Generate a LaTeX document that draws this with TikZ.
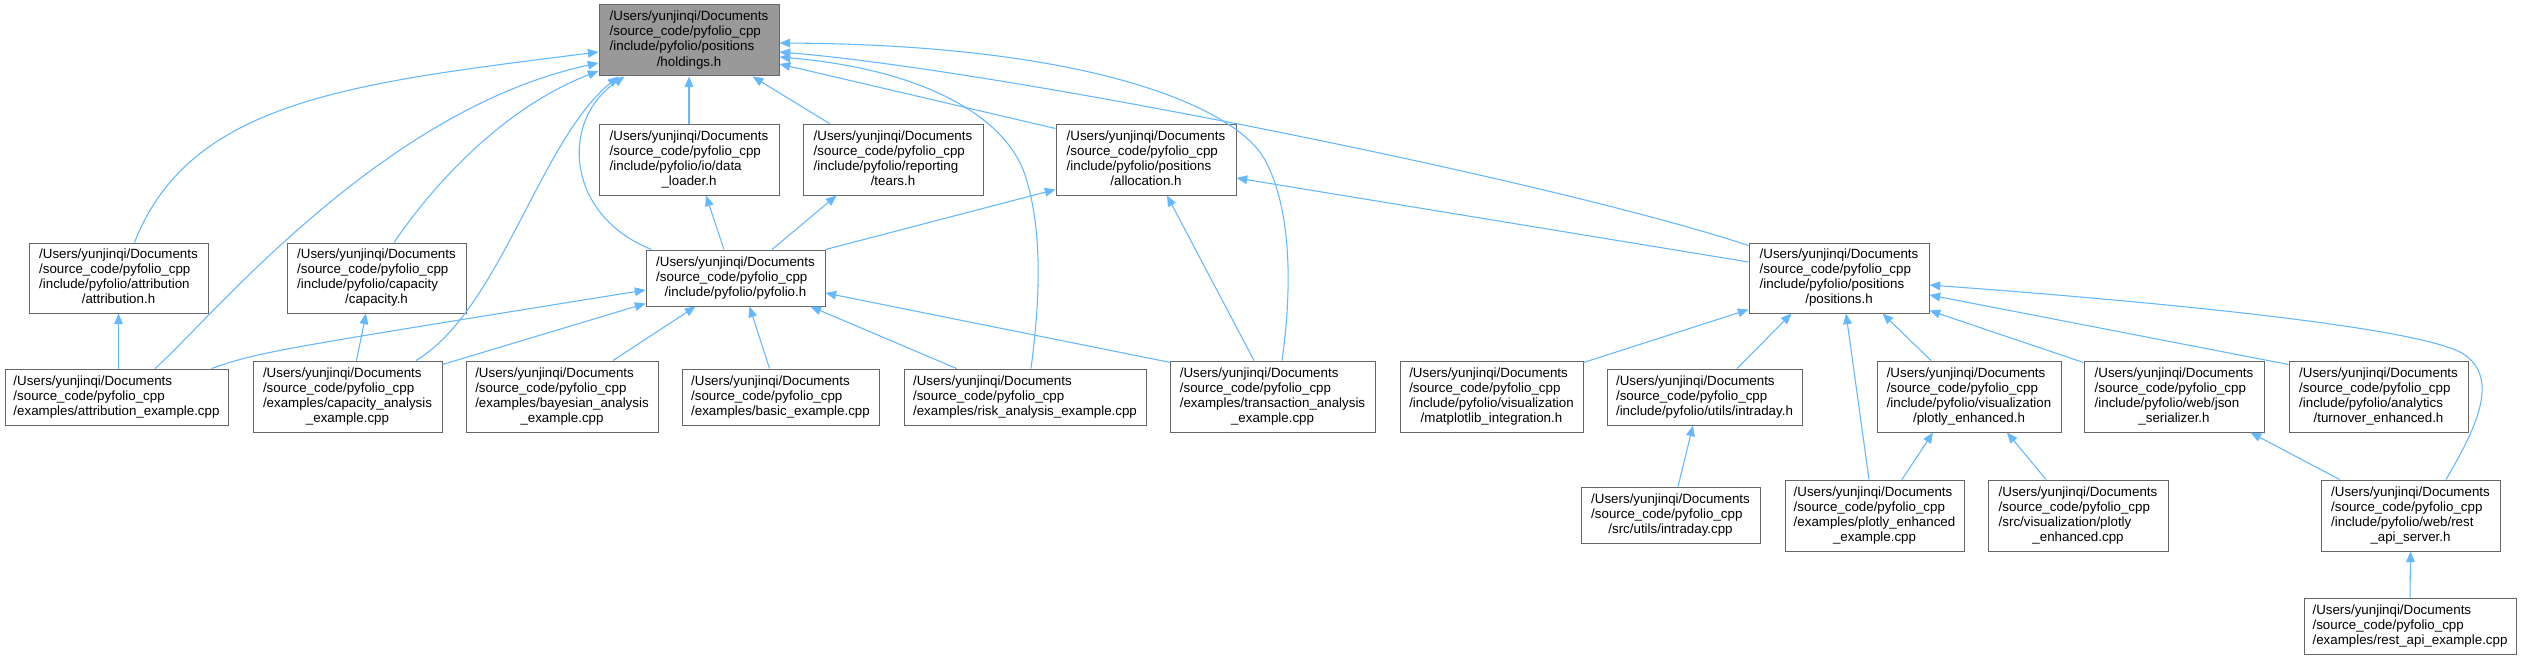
\documentclass[tikz,border=0pt]{standalone}
\usepackage{fontspec}
\setmainfont{Liberation Sans}
\usetikzlibrary{arrows.meta,calc}
\definecolor{edgec}{HTML}{63B8FF}
\definecolor{boxb}{HTML}{666666}
\definecolor{hfill}{HTML}{999999}
\newcommand{\ftxt}[2]{\begin{tabular}{@{}l@{}}#1\\\multicolumn{1}{@{}c@{}}{#2}\end{tabular}}
\newcommand{\ud}{/Users/yunjinqi/Documents\\/source\_code/pyfolio\_cpp}
\tikzset{
  bx/.style 2 args={draw=boxb, line width=0.75pt, fill=white, inner sep=0pt,
    minimum width=#1*0.75pt, minimum height=#2*0.75pt,
    font=\fontsize{10pt}{11.25pt}\selectfont},
  edge/.style={draw=edgec, line width=0.8pt, -{Triangle[length=8pt,width=6.5pt]}}
}
\begin{document}
\begin{tikzpicture}[x=0.75pt,y=-0.75pt]
\fill[white] (0,0) rectangle (2522,660);
\useasboundingbox (0,0) rectangle (2522,660);
% row 0
\node[bx={180}{71}, fill=hfill] (hold) at (689,40.5) {\ftxt{\ud\\/include/pyfolio/positions}{/holdings.h}};
% row 1
\node[bx={180}{71}] (dl) at (689,159.5) {\ftxt{\ud\\/include/pyfolio/io/data}{\_loader.h}};
\node[bx={180}{71}] (tears) at (893,159.5) {\ftxt{\ud\\/include/pyfolio/reporting}{/tears.h}};
\node[bx={180}{71}] (alloc) at (1146,159.5) {\ftxt{\ud\\/include/pyfolio/positions}{/allocation.h}};
% row 2
\node[bx={179}{70}] (attr) at (118.5,278) {\ftxt{\ud\\/include/pyfolio/attribution}{/attribution.h}};
\node[bx={179}{70}] (cap) at (376.5,278) {\ftxt{\ud\\/include/pyfolio/capacity}{/capacity.h}};
\node[bx={179}{56}] (pyf) at (735.5,278) {\ftxt{\ud}{/include/pyfolio/pyfolio.h}};
\node[bx={180}{70}] (pos) at (1839,278) {\ftxt{\ud\\/include/pyfolio/positions}{/positions.h}};
% row 3
\node[bx={223}{56}] (attrex) at (116.5,397) {\ftxt{\ud}{/examples/attribution\_example.cpp}};
\node[bx={189}{71}] (capex) at (347.5,396.5) {\ftxt{\ud\\/examples/capacity\_analysis}{\_example.cpp}};
\node[bx={192}{71}] (bay) at (562,396.5) {\ftxt{\ud\\/examples/bayesian\_analysis}{\_example.cpp}};
\node[bx={197}{56}] (basic) at (780.5,397) {\ftxt{\ud}{/examples/basic\_example.cpp}};
\node[bx={242}{56}] (risk) at (1025,397) {\ftxt{\ud}{/examples/risk\_analysis\_example.cpp}};
\node[bx={205}{71}] (trans) at (1272.5,396.5) {\ftxt{\ud\\/examples/transaction\_analysis}{\_example.cpp}};
\node[bx={183}{71}] (matpl) at (1491.5,396.5) {\ftxt{\ud\\/include/pyfolio/visualization}{/matplotlib\_integration.h}};
\node[bx={195}{56}] (intrh) at (1704.5,397) {\ftxt{\ud}{/include/pyfolio/utils/intraday.h}};
\node[bx={184}{71}] (plh) at (1969,396.5) {\ftxt{\ud\\/include/pyfolio/visualization}{/plotly\_enhanced.h}};
\node[bx={180}{71}] (json) at (2174,396.5) {\ftxt{\ud\\/include/pyfolio/web/json}{\_serializer.h}};
\node[bx={179}{71}] (turn) at (2378.5,396.5) {\ftxt{\ud\\/include/pyfolio/analytics}{/turnover\_enhanced.h}};
% row 4
\node[bx={179}{56}] (intrc) at (1670.5,515) {\ftxt{\ud}{/src/utils/intraday.cpp}};
\node[bx={179}{71}] (plex) at (1874.5,515.5) {\ftxt{\ud\\/examples/plotly\_enhanced}{\_example.cpp}};
\node[bx={180}{71}] (plcpp) at (2078,515.5) {\ftxt{\ud\\/src/visualization/plotly}{\_enhanced.cpp}};
\node[bx={179}{71}] (rest) at (2410.5,515.5) {\ftxt{\ud\\/include/pyfolio/web/rest}{\_api\_server.h}};
% row 5
\node[bx={212}{56}] (restex) at (2410,626) {\ftxt{\ud}{/examples/rest\_api\_example.cpp}};

% edges to holdings
\draw[edge] (dl.north) -- (hold.south);
\draw[edge] ($(tears.north west)+(27,0)$) -- ($(hold.south east)+(-27,0)$);
\draw[edge] ($(alloc.north west)+(0,5)$) -- ($(hold.east)+(0,23.5)$);
\draw[edge] ($(pos.north west)+(0,3)$) .. controls (1550,180) and (1000,70) .. ($(hold.east)+(0,11.5)$);
\draw[edge] ($(risk.north)+(6,0)$) .. controls (1040,300) and (1043,230) .. (1025,175)
   .. controls (1007,120) and (930,70) .. ($(hold.east)+(0,16.5)$);
\draw[edge] ($(trans.north)+(9.5,0)$) .. controls (1292,290) and (1292,210) .. (1265,160)
   .. controls (1238,110) and (1100,45) .. ($(hold.east)+(0,2.5)$);
\draw[edge] ($(attr.north)+(16,0)$) .. controls (190,100) and (353,83) .. ($(hold.west)+(0,11.5)$);
\draw[edge] ($(attrex.north)+(38.5,0)$) .. controls (210,320) and (380,110) .. ($(hold.west)+(0,22.5)$);
\draw[edge] ($(cap.north)+(17.5,0)$) .. controls (440,175) and (510,105) .. ($(hold.west)+(0,30.5)$);
\draw[edge] ($(capex.north)+(68.5,0)$) .. controls (500,310) and (540,140) .. ($(hold.south west)+(20,0)$);
\draw[edge] ($(pyf.north west)+(6,0)$) .. controls (565,215) and (560,120) .. ($(hold.south west)+(26,0)$);
% edges from pyfolio.h
\draw[edge] ($(pyf.north)+(-11.5,0)$) -- ($(dl.south)+(17,0)$);
\draw[edge] ($(pyf.north)+(36.5,0)$) -- ($(tears.south west)+(34,0)$);
\draw[edge] (pyf.north east) -- ($(alloc.south west)+(0,-6)$);
% row 3 left side
\draw[edge] (attrex.north -| attr.south) -- (attr.south);
\draw[edge] ($(attrex.north east)+(-17,0)$) .. controls (260,352) .. ($(pyf.west)+(0,12)$);
\draw[edge] ($(capex.north)+(9,0)$) -- ($(cap.south)+(-10.5,0)$);
\draw[edge] ($(capex.north east)+(0,4)$) -- ($(pyf.south west)+(0,-3)$);
\draw[edge] ($(bay.north)+(51,0)$) -- ($(pyf.south)+(-40,0)$);
\draw[edge] ($(basic.north)+(-11,0)$) -- ($(pyf.south)+(14,0)$);
\draw[edge] ($(risk.north west)+(53,0)$) -- ($(pyf.south east)+(-15,0)$);
\draw[edge] ($(trans.north west)+(1,2)$) -- ($(pyf.east)+(0,15)$);
\draw[edge] ($(trans.north)+(-18.5,0)$) -- ($(alloc.south)+(21,0)$);
% positions.h
\draw[edge] ($(pos.west)+(0,-16)$) -- ($(alloc.east)+(0,18.5)$);
\draw[edge] ($(matpl.north east)+(0,2)$) -- ($(pos.south west)+(0,-4)$);
\draw[edge] ($(intrh.north)+(32.5,0)$) -- ($(pos.south west)+(43,0)$);
\draw[edge] ($(plex.north)+(-5.5,0)$) -- ($(pos.south)+(7,0)$);
\draw[edge] ($(plh.north)+(-38,0)$) -- ($(pos.south east)+(-47,0)$);
\draw[edge] ($(json.north west)+(0,2)$) -- ($(pos.south east)+(0,-3)$);
\draw[edge] ($(turn.north west)+(0,4)$) -- ($(pos.east)+(0,17)$);
\draw[edge] ($(rest.north)+(35.5,0)$) .. controls (2475,430) and (2500,380) .. (2465,355)
   .. controls (2430,330) and (2200,305) .. ($(pos.east)+(0,7)$);
% lower rows
\draw[edge] ($(plex.north)+(27.5,0)$) -- ($(plh.south)+(-36,0)$);
\draw[edge] ($(plcpp.north)+(-32,0)$) -- ($(plh.south)+(38,0)$);
\draw[edge] ($(rest.north west)+(19,0)$) -- ($(json.south east)+(-14,0)$);
\draw[edge] (restex.north) -- (rest.south);
\draw[edge] ($(intrc.north)+(7.5,0)$) -- ($(intrh.south)+(-11.5,0)$);
\end{tikzpicture}
\end{document}
